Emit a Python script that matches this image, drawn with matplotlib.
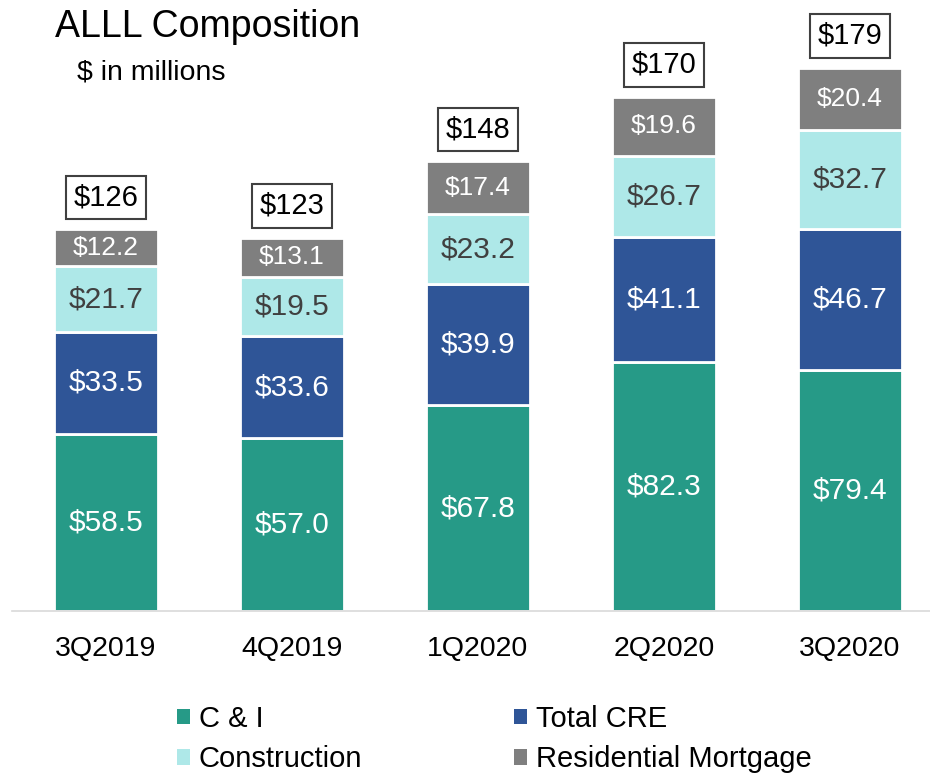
import matplotlib
matplotlib.use('Agg')
import matplotlib.pyplot as plt
from matplotlib.patches import Patch
import numpy as np

plt.rcParams['font.family'] = ['Liberation Sans', 'DejaVu Sans']

# Data
quarters = ['3Q2019', '4Q2019', '1Q2020', '2Q2020', '3Q2020']
c_and_i = [58.5, 57.0, 67.8, 82.3, 79.4]
total_cre = [33.5, 33.6, 39.9, 41.1, 46.7]
construction = [21.7, 19.5, 23.2, 26.7, 32.7]
resi_mortgage = [12.2, 13.1, 17.4, 19.6, 20.4]
totals = ['$126', '$123', '$148', '$170', '$179']

series = [
    ('C & I', c_and_i, '#269A87', 'white', 21.5),
    ('Total CRE', total_cre, '#2F5597', 'white', 21.5),
    ('Construction', construction, '#AEE8E8', '#404040', 21.5),
    ('Residential Mortgage', resi_mortgage, '#7F7F7F', 'white', 19),
]

fig = plt.figure(figsize=(9.3, 7.73), dpi=100)
ax = fig.add_axes([12 / 930, 1 - 611 / 773, 918 / 930, 576 / 773])

x = np.arange(len(quarters))
bottom = np.zeros(len(quarters))
for name, vals, color, tcolor, fs in series:
    vals = np.array(vals)
    ax.bar(x, vals, width=0.56, bottom=bottom, color=color, edgecolor='white',
           linewidth=2, label=name)
    for xi, b, v in zip(x, bottom, vals):
        ax.text(xi, b + v / 2, f'${v:.1f}', ha='center', va='center',
                fontsize=fs, color=tcolor)
    bottom = bottom + vals

# Total boxes above stacks
for xi, top, lbl in zip(x, bottom, totals):
    ax.text(xi, top + 10.5, lbl, ha='center', va='center', fontsize=21,
            color='black',
            bbox=dict(boxstyle='square,pad=0.27', facecolor='white',
                      edgecolor='#404040', linewidth=1.5))

ax.set_xlim(-0.505, 4.43)
ax.set_ylim(0, 190)
ax.set_xticks(x)
ax.set_xticklabels(quarters, fontsize=20.5)
ax.tick_params(axis='x', length=0, pad=18)
ax.set_yticks([])
for s in ['top', 'right', 'left']:
    ax.spines[s].set_visible(False)
ax.spines['bottom'].set_color('#D9D9D9')
ax.spines['bottom'].set_linewidth(1.2)

fig.text(55 / 930, 1 - 27 / 773, 'ALLL Composition', fontsize=27,
         ha='left', va='center')
fig.text(77 / 930, 1 - 72 / 773, '$ in millions', fontsize=20.5,
         ha='left', va='center')

# legend fills column-wise, so order handles to get C&I / Total CRE on top row
order = [0, 2, 1, 3]
handles = [Patch(facecolor=series[i][2], edgecolor='none', label=series[i][0])
           for i in order]
fig.legend(handles=handles, loc='upper left', ncol=2, frameon=False, fontsize=21,
           bbox_to_anchor=(177 / 930, 1 - 705 / 773), handlelength=0.45,
           handleheight=0.45, handletextpad=0.3, columnspacing=5.2,
           labelspacing=0.42, borderpad=0, borderaxespad=0)

fig.savefig('out.png', dpi=100)
